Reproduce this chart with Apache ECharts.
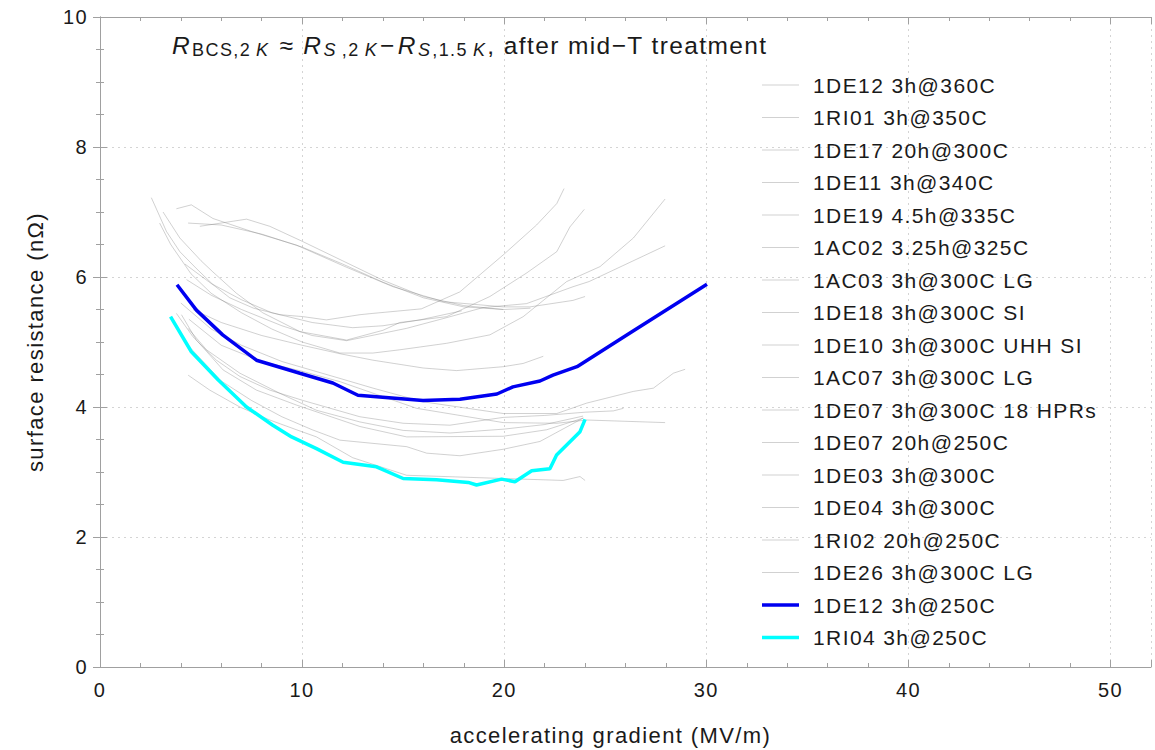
<!DOCTYPE html>
<html>
<head>
<meta charset="utf-8">
<script src="https://cdn.jsdelivr.net/npm/echarts@6/dist/echarts.min.js"></script>
<style>
html, body { margin: 0; padding: 0; background: #fff; }
#chart { width: 1155px; height: 750px; }
#chart svg text { letter-spacing: 1.4px; }
</style>
</head>
<body>
<div id="chart"></div>
<script>
// series names, in legend order
const grayNames = [
  '1DE12 3h@360C', '1RI01 3h@350C', '1DE17 20h@300C', '1DE11 3h@340C',
  '1DE19 4.5h@335C', '1AC02 3.25h@325C', '1AC03 3h@300C LG', '1DE18 3h@300C SI',
  '1DE10 3h@300C UHH SI', '1AC07 3h@300C LG', '1DE07 3h@300C 18 HPRs', '1DE07 20h@250C',
  '1DE03 3h@300C', '1DE04 3h@300C', '1RI02 20h@250C', '1DE26 3h@300C LG'
];
const blueName = '1DE12 3h@250C';
const cyanName = '1RI04 3h@250C';

// [gradient MV/m, R_BCS nOhm]
const g1 = [[2.54,7.22],[2.7,7.11],[3.29,6.7],[3.95,6.39],[4.77,6.13],[5.6,5.88],[6.42,5.68],[7.6,5.52],[8.9,5.42],[10.05,5.39],[11.2,5.34],[12.86,5.42],[13.5,5.44],[15.9,5.51],[17.8,5.77],[19.95,6.34],[21.6,6.8],[22.6,7.13],[22.96,7.36]];
const g2 = [[3.12,7.0],[3.95,6.6],[5.0,6.25],[5.58,6.08],[6.75,5.75],[8.05,5.45],[9.89,5.16],[12.2,5.03],[14.0,5.18],[14.83,5.3],[17.15,5.39],[19.29,5.7],[21.1,6.06],[22.6,6.39],[23.25,6.77],[23.96,7.04]];
const g3 = [[3.78,7.05],[4.52,7.11],[5.59,6.9],[7.5,6.7],[9.72,6.49],[12.2,6.15],[14.5,5.85],[17.0,5.62],[19.96,5.54],[21.27,5.54],[23.4,5.64],[24.0,5.7]];
const g4 = [[4.94,6.78],[6.2,6.84],[7.25,6.89],[8.4,6.78],[10.0,6.55],[12.0,6.25],[14.0,5.95],[16.0,5.7],[18.0,5.56],[19.95,5.5]];
const g5 = [[4.36,6.83],[6.0,6.8],[8.0,6.66],[10.0,6.46],[12.0,6.2],[14.0,5.92],[16.0,5.68],[18.0,5.54],[20.0,5.5],[21.3,5.52]];
const g6 = [[2.95,6.83],[3.5,6.5],[4.5,6.05],[5.5,5.75],[7.0,5.45],[8.5,5.2],[10.0,5.0],[11.87,4.83],[13.5,4.83],[14.83,4.88],[17.15,4.98],[19.29,5.11],[20.94,5.39],[23.09,5.93],[24.74,6.16],[26.39,6.6],[27.96,7.2]];
const g7 = [[4.28,5.96],[5.5,5.72],[7.0,5.5],[9.0,5.25],[10.5,5.1],[12.2,5.02],[15.17,5.21],[16.98,5.36],[18.96,5.53],[21.1,5.59],[23.4,5.85],[24.2,5.93],[27.96,6.48]];
const g8 = [[4.2,6.2],[5.5,5.9],[7.0,5.65],[8.5,5.45],[10.5,5.3],[12.5,5.22],[14.0,5.25],[15.83,5.34],[17.9,5.48]];
const g9 = [[4.6,5.5],[6.0,5.3],[8.0,5.1],[10.0,4.95],[11.87,4.82],[13.51,4.72],[15.99,4.6],[17.64,4.56],[19.95,4.62],[20.94,4.67],[21.93,4.78]];
const g10 = [[4.0,5.6],[5.5,5.2],[7.0,4.95],[9.0,4.7],[11.87,4.44],[13.51,4.29],[15.99,4.08],[19.95,3.9],[22.6,3.9],[24.08,4.06],[26.39,4.24],[27.38,4.29],[28.37,4.52],[28.95,4.58]];
const g11 = [[4.4,5.35],[6.0,4.95],[8.0,4.7],[10.0,4.55],[11.87,4.39],[15.66,3.98],[19.95,3.76],[22.6,3.75],[24.08,3.8],[27.96,3.76]];
const g12 = [[3.78,5.44],[4.6,5.08],[5.76,4.72],[6.92,4.47],[8.4,4.26],[10.05,4.1],[12.86,3.85],[15.0,3.75],[17.31,3.72],[19.95,3.84],[22.0,3.87],[24.0,3.92],[25.4,3.94],[25.9,3.98]];
const g13 = [[4.03,5.42],[4.77,5.03],[6.09,4.57],[7.74,4.26],[9.72,4.03],[12.86,3.7],[15.17,3.54],[19.95,3.55],[22.1,3.65],[23.91,3.83]];
const g14 = [[4.36,5.21],[5.27,4.88],[6.92,4.52],[8.9,4.21],[10.71,3.95],[12.86,3.77],[15.0,3.64],[17.31,3.6],[20.0,3.66],[22.0,3.73],[23.9,3.86]];
const g15 = [[4.5,4.9],[6.0,4.4],[7.5,4.1],[9.0,3.85],[10.5,3.65],[11.87,3.49],[15.17,3.39],[16.16,3.29],[17.81,3.25],[19.95,3.35],[21.77,3.47],[23.91,3.83]];
const g16 = [[4.36,4.49],[5.43,4.26],[6.92,4.0],[8.4,3.8],[9.72,3.65],[10.71,3.54],[12.5,3.22],[15.17,2.95],[19.95,2.9],[22.92,2.87],[23.75,2.93],[24.0,2.87]];
const grayData = [g1, g2, g3, g4, g5, g6, g7, g8, g9, g10, g11, g12, g13, g14, g15, g16];

const blueData = [[3.81,5.88],[4.77,5.49],[6.07,5.11],[7.74,4.72],[9.89,4.52],[11.52,4.37],[12.76,4.18],[15.98,4.1],[17.81,4.12],[19.64,4.2],[20.43,4.31],[21.77,4.4],[22.41,4.49],[23.6,4.62],[26.22,5.14],[30.03,5.89]];
const cyanData = [[3.49,5.39],[4.52,4.85],[5.84,4.42],[7.25,4.0],[8.55,3.72],[9.48,3.54],[10.71,3.36],[12.03,3.15],[13.68,3.08],[15.0,2.9],[16.65,2.88],[18.22,2.84],[18.63,2.8],[19.87,2.89],[20.53,2.85],[21.36,3.02],[22.26,3.05],[22.59,3.26],[23.75,3.62],[24.0,3.81]];

const xMajor = 10;
const xMinor = 2;
const yMajor = 2;

const font = 'Liberation Sans';
const frameColor = '#a0a0a0';
const ls = 1.4;

const chart = echarts.init(document.getElementById('chart'), null, { renderer: 'svg' });

const thinIcon = 'path://M0,0h37v1h-37z';
const thickIcon = 'path://M0,0h37v3.5h-37z';

const series = grayNames.map((name, i) => ({
  name: name,
  type: 'line',
  data: grayData[i],
  symbol: 'none',
  color: 'rgba(120,120,120,0.34)',
  lineStyle: { width: 1 },
  z: 2,
  silent: true
}));
series.push({
  name: blueName, type: 'line', data: blueData, symbol: 'none',
  color: '#0000f0', lineStyle: { width: 3.5 }, z: 5, silent: true
});
series.push({
  name: cyanName, type: 'line', data: cyanData, symbol: 'none',
  color: '#00ffff', lineStyle: { width: 3.5 }, z: 5, silent: true
});

function xAxisDef(position, interval, major) {
  return {
    type: 'value',
    position: position,
    min: 0,
    max: 52,
    interval: interval,
    axisLine: { show: major, lineStyle: { color: frameColor, width: 1 } },
    axisTick: { show: true, inside: true, length: major ? 7 : 4, lineStyle: { color: frameColor } },
    axisLabel: {
      show: major && position === 'bottom',
      formatter: v => (v % xMajor === 0 ? String(v) : ''),
      fontFamily: font, fontSize: 20, color: '#1a1a1a', margin: 13
    },
    splitLine: { show: major && position === 'bottom', lineStyle: { color: '#d4d4d4', type: [2, 4] } },
    name: major && position === 'bottom' ? 'accelerating gradient (MV/m)' : '',
    nameLocation: 'middle',
    nameGap: 57,
    nameTextStyle: { fontFamily: font, fontSize: 22, color: '#1a1a1a', padding: [0, 30, 0, 0] }
  };
}

function yAxisDef(position) {
  const left = position === 'left';
  return {
    type: 'value',
    position: position,
    min: 0,
    max: 10,
    interval: yMajor,
    axisLine: { show: true, lineStyle: { color: frameColor, width: 1 } },
    axisTick: { show: true, inside: true, length: 7, lineStyle: { color: frameColor } },
    minorTick: { show: true, splitNumber: 4, length: 4, lineStyle: { color: frameColor } },
    axisLabel: { show: left, fontFamily: font, fontSize: 20, color: '#1a1a1a', margin: 12 },
    splitLine: { show: left, lineStyle: { color: '#d4d4d4', type: [2, 4] } },
    name: left ? 'surface resistance (n\u03a9)' : '',
    nameLocation: 'middle',
    nameGap: 54,
    nameRotate: 90,
    nameTextStyle: { fontFamily: font, fontSize: 22, color: '#1a1a1a' }
  };
}

const txt = { fontFamily: font, fontSize: 24.5, fontWeight: 'normal', lineHeight: 28, color: '#1a1a1a' };
const sub = { fontFamily: font, fontSize: 18, fontWeight: 'normal', lineHeight: 10, verticalAlign: 'bottom', color: '#1a1a1a' };
const subi = Object.assign({}, sub, { fontStyle: 'italic' });
const titleRich = {
  R: Object.assign({}, txt, { fontStyle: 'italic', padding: [0, ls + 1, 0, 0] }),
  a: Object.assign({}, sub, { padding: [0, 5 * ls + 5, 0, 0] }),
  b: Object.assign({}, subi, { padding: [0, ls + 1, 0, 0] }),
  c: Object.assign({}, txt, { padding: [0, ls + 9, 0, 9] }),
  d: Object.assign({}, subi, { padding: [0, ls + 5, 0, 0] }),
  e: Object.assign({}, sub, { padding: [0, 2 * ls + 5, 0, 0] }),
  f: Object.assign({}, txt, { padding: [0, ls + 2, 0, 1] }),
  g: Object.assign({}, sub, { padding: [0, 4 * ls + 5, 0, 0] }),
  h: Object.assign({}, txt)
};

const legendData = grayNames.map(n => ({ name: n, icon: thinIcon }))
  .concat([{ name: blueName, icon: thickIcon }, { name: cyanName, icon: thickIcon }]);

const option = {
  animation: false,
  backgroundColor: '#fff',
  title: {
    text: '{R|R}{a|BCS,2}{b|K}{c|\u2248}{R|R}{d|S}{e|,2}{b|K}{f|\u2212}{R|R}{b|S}{g|,1.5}{b|K}{h|, after mid\u2212T treatment}',
    left: 172,
    top: 31,
    padding: 0,
    textStyle: { fontWeight: 'normal', rich: titleRich }
  },
  legend: {
    orient: 'vertical',
    left: 762,
    top: 74,
    itemWidth: 37,
    itemHeight: 14,
    itemGap: 10.5,
    padding: 0,
    selectedMode: false,
    data: legendData,
    itemStyle: { borderWidth: 0 },
    textStyle: { fontFamily: font, fontSize: 21, lineHeight: 22, color: '#1a1a1a', padding: [0, 0, 0, 9] }
  },
  grid: { left: 100, right: 4, top: 17, bottom: 83, containLabel: false, outerBoundsMode: 'none' },
  xAxis: [
    xAxisDef('bottom', xMajor, true),
    xAxisDef('bottom', xMinor, false),
    xAxisDef('top', xMajor, true),
    xAxisDef('top', xMinor, false)
  ],
  yAxis: [yAxisDef('left'), yAxisDef('right')],
  series: series
};

chart.setOption(option);
</script>
</body>
</html>
